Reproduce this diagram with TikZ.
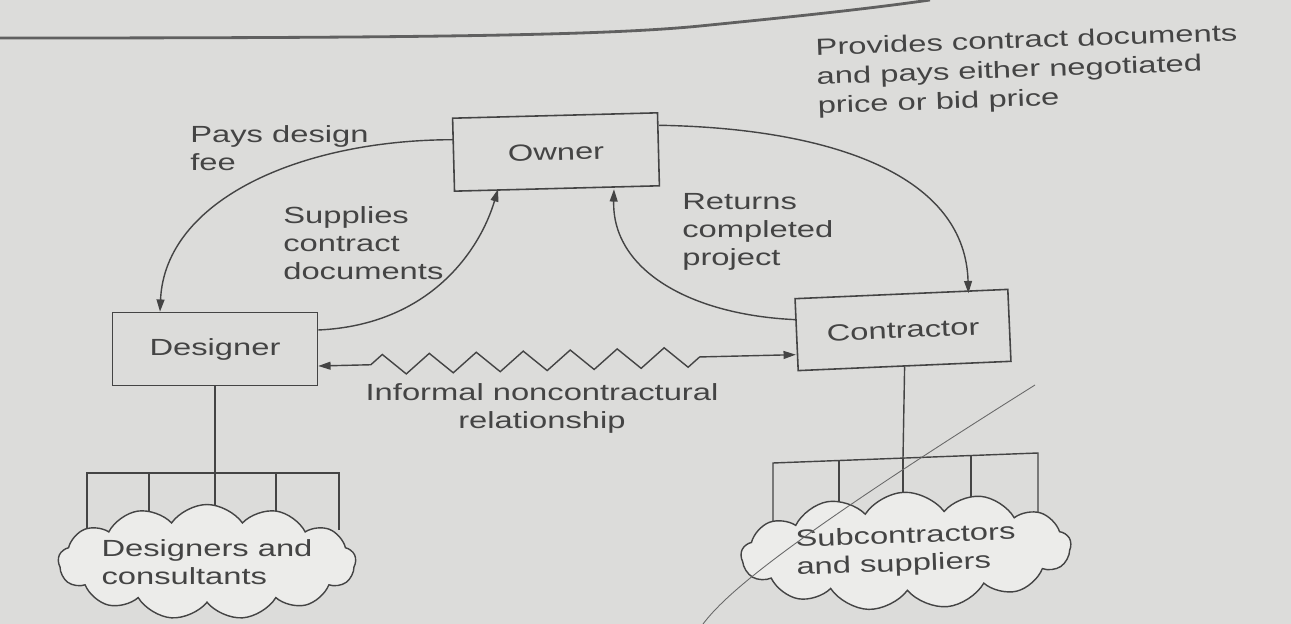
\documentclass[tikz,border=0pt]{standalone}
\usepackage{fontspec}
\setmainfont[FakeStretch=1.4]{Liberation Sans}
\usetikzlibrary{calc,arrows.meta,shapes.symbols,decorations.pathmorphing}
\definecolor{paper}{RGB}{220,220,218}
\definecolor{puff}{RGB}{236,236,234}
\definecolor{ink}{RGB}{68,68,68}
\tikzset{
	party/.style={draw=ink, line width=0.9pt, fill=paper, minimum width=4.1cm, minimum height=1.46cm, inner sep=0pt, text=ink, font=\fontsize{13.3}{15.9}\selectfont},
	txt/.style={text=ink, font=\fontsize{13.3}{15.9}\selectfont, inner sep=0pt, align=left},
	flow/.style={draw=ink, line width=0.8pt, -{Triangle[length=7pt,width=4.5pt]}},
	tie/.style={draw=ink, line width=0.8pt},
	puffy/.style={cloud, cloud puffs=13, cloud puff arc=110, cloud ignores aspect, draw=ink, line width=0.8pt, fill=puff, inner sep=0pt, text=ink, font=\fontsize{13.3}{15.9}\selectfont, align=left}
}

\begin{document}
\begin{tikzpicture}[x=0.02cm,y=-0.02cm]
		%%%%% START %%%%%
		
		\fill[paper] (0,0) rectangle (1291,624);
		\useasboundingbox (0,0) rectangle (1291,624);
		
		% edge of the page above
		\draw[line width=1.6pt, color=ink!85] (0,38) .. controls (400,38) and (600,36) .. (700,26) .. controls (780,18) and (860,10) .. (930,0);
		
		% the three parties
		\node[party] (owner) at (556,152) [rotate=1.5] {Owner};
		\node[party, minimum width=4.1cm] (designer) at (215,349) {Designer};
		\node[party, minimum width=4.26cm, minimum height=1.44cm] (contractor) at (903,330) [rotate=2.5] {Contractor};
		
		% branches under the designer
		\coordinate (dfork) at (215,473);
		\draw[tie] (designer.south) -- (dfork);
		\draw[tie] (87,530) -- (87,473) -- (339,473) -- (339,530);
		\foreach \x in {149,215,276}
			\draw[tie] (\x,473) -- (\x,530);
		\node[puffy, minimum width=5.6cm, minimum height=2.3cm] (consultants) at (207,562) {Designers and\\consultants};
		
		% branches under the contractor
		\coordinate (cfork) at (903,458);
		\draw[tie] (contractor.south) -- (cfork);
		\draw[tie] (773,525) -- (773,463) -- (1038,453) -- (1038,525);
		\draw[tie] (839,460.4) -- (839,525);
		\draw[tie] (903,458) -- (903,525);
		\draw[tie] (971,455.4) -- (971,525);
		\node[puffy, minimum width=6.6cm, minimum height=2.35cm, rotate=2] (suppliers) at (906,551) {Subcontractors\\and suppliers};
		
		% contracts
		\draw[flow] ($(owner.west)+(0,-15)$) .. controls (300,140) and (165,200) .. ($(designer.north)+(-55,0)$);
		\draw[flow] ($(designer.east)+(0,-19)$) .. controls (430,325) and (480,250) .. ($(owner.south)+(-59,0)$);
		\draw[flow] ($(owner.east)+(0,-24)$) .. controls (820,128) and (965,170) .. ($(contractor.north)+(67,0)$);
		\draw[flow] ($(contractor.west)+(0,-15)$) .. controls (690,315) and (612,270) .. ($(owner.south)+(57,0)$);
		
		% informal link
		\coordinate (zl) at ($(designer.east)+(0,17)$);
		\coordinate (zr) at ($(contractor.west)+(0,20)$);
		\draw[tie, {Triangle[length=7pt,width=4.5pt]}-{Triangle[length=7pt,width=4.5pt]}] (zl) -- ($(zl)!0.11!(zr)$) decorate[decoration={zigzag, segment length=0.94cm, amplitude=0.2cm}] {-- ($(zl)!0.82!(zr)$)} -- (zr);
		
		% labels
		\node[txt, anchor=north west] (fee) at (190,125) {Pays design\\fee};
		\node[txt, anchor=north west] (docs) at (283,206) {Supplies\\contract\\documents};
		\node[txt, anchor=north west] (returns) at (682,193) {Returns\\completed\\project};
		\node[txt, anchor=north west, rotate=2, font=\fontsize{13.3}{16.6}\selectfont] (provides) at (815,38) {Provides contract documents\\and pays either negotiated\\price or bid price};
		\node[txt, anchor=north, align=center] (informal) at (542,383) {Informal noncontractural\\relationship};
		
		% pencil stroke across the page
		\draw[line width=0.5pt, color=ink!80] (703,624) .. controls (725,595) and (780,545) .. (1035,385);
		
		%%%%% END %%%%%
\end{tikzpicture}
\end{document}
